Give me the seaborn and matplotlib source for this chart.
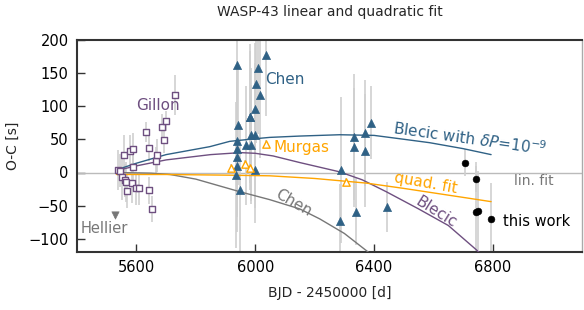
import matplotlib
matplotlib.use("Agg")
import matplotlib.pyplot as plt
import seaborn as sns
import numpy as np
import pandas as pd

# ---------------- data ----------------
gillon_x = [5539, 5545, 5550, 5559, 5561, 5565, 5569, 5578, 5584, 5587, 5589, 5600, 5609,
            5632, 5643, 5643, 5651, 5665, 5670, 5685, 5692, 5701, 5729]
gillon_y = [4, 3, -7, 26, -12, -14, -28, 32, -16, 35, 8, -24, -24,
            61, 37, -27, -55, 18, 26, 69, 49, 78, 117]
gillon_e = [30, 25, 35, 30, 25, 30, 25, 25, 30, 25, 30, 25, 25,
            15, 20, 20, 20, 20, 25, 20, 20, 15, 30]

hellier_x = [5528]
hellier_y = [-64]
hellier_e = [4]

chen_x = [5935, 5937, 5937, 5937, 5937, 5942, 5940, 5948,
          5970, 5981, 5981, 5987, 5987,
          5998, 5998, 5998, 6004, 6009, 6017, 6037,
          6286, 6290, 6331, 6331, 6338, 6371, 6371, 6390, 6443]
chen_y = [-4, 10, 23, 36, 47, 71, 162, -27,
          41, 84, 84, 42, 57,
          4, 56, 96, 134, 158, 117, 177,
          -73, 4, 53, 38, -59, 60, 33, 75, -52]
chen_e = [110, 100, 90, 100, 110, 90, 120, 100,
          90, 110, 100, 90, 100,
          80, 110, 100, 90, 100, 95, 92,
          55, 110, 95, 90, 50, 80, 85, 55, 38]

murgas_x = [5920, 5967, 5981, 6037, 6304]
murgas_y = [7, 13, 7, 43, -15]
murgas_e = [6, 6, 6, 6, 6]

thiswork_x = [6706, 6742, 6743, 6750, 6794]
thiswork_y = [15, -9.5, -59, -57.5, -70.6]
thiswork_e = [20, 20, 75, 60, 55]

# model curves
blecic_dp_x = [5533, 5600, 5700, 5847, 5914, 6000, 6049, 6150, 6284, 6400, 6486, 6587, 6700, 6794]
blecic_dp_y = [4, 14, 27, 39, 47, 51, 53, 55, 57, 56, 51, 45, 36, 27]

blecic_x = [5533, 5600, 5700, 5850, 5950, 6000, 6060, 6150, 6284, 6360, 6441, 6550, 6650, 6740, 6790]
blecic_y = [3, 10, 19, 27, 30, 29, 25, 15, 1, -11, -29, -55, -80, -115, -135]

chenfit_x = [5533, 5650, 5713, 5800, 5948, 6049, 6150, 6217, 6300, 6380, 6420]
chenfit_y = [0, -1, -3, -10, -29, -41, -55, -70, -92, -120, -135]

quad_x = [5533, 5700, 5900, 6049, 6200, 6374, 6500, 6721, 6794]
quad_y = [-3, -3, -4, -5, -9, -16, -24, -39, -44]

xticks = [5600, 6000, 6400, 6800]
yticks = [-100, -50, 0, 50, 100, 150, 200]

# ---------------- style ----------------
sns.set_theme(style="ticks")
plt.rcParams['font.family'] = ['DejaVu Sans']

BLUE = "#2f6185"
PURPLE = "#6e4f80"
ORANGE = "#ffa500"
GRAY = "#777777"
EGRAY = "#cfcfcf"

fig = plt.figure(figsize=(5.84, 3.10), dpi=100)
ax = fig.add_axes([77 / 584, 58 / 310, 505 / 584, 212 / 310])

# zero line (lin. fit)
ax.axhline(0, color="#bbbbbb", lw=1.0, zorder=1)

# error bars
for xs, ys, es in [(gillon_x, gillon_y, gillon_e), (chen_x, chen_y, chen_e),
                   (murgas_x, murgas_y, murgas_e), (thiswork_x, thiswork_y, thiswork_e),
                   (hellier_x, hellier_y, hellier_e)]:
    ax.errorbar(xs, ys, yerr=es, fmt="none", ecolor=EGRAY, elinewidth=1.2, zorder=2)

# model lines
for xs, ys, c in [(blecic_dp_x, blecic_dp_y, BLUE), (blecic_x, blecic_y, PURPLE),
                  (chenfit_x, chenfit_y, GRAY), (quad_x, quad_y, ORANGE)]:
    sns.lineplot(x=xs, y=ys, color=c, lw=1.0, sort=False, estimator=None, ax=ax, zorder=3)

# markers
sns.scatterplot(x=gillon_x, y=gillon_y, marker="s", s=22, facecolor="white",
                edgecolor=PURPLE, linewidth=1.0, ax=ax, zorder=4)
sns.scatterplot(x=chen_x, y=chen_y, marker="^", s=34, color=BLUE, edgecolor=BLUE,
                linewidth=0.5, ax=ax, zorder=4)
sns.scatterplot(x=murgas_x, y=murgas_y, marker="^", s=28, facecolor="white",
                edgecolor=ORANGE, linewidth=1.0, ax=ax, zorder=4)
sns.scatterplot(x=thiswork_x, y=thiswork_y, marker="o", s=24, color="black",
                edgecolor="black", ax=ax, zorder=5)
sns.scatterplot(x=hellier_x, y=hellier_y, marker="v", s=28, color=GRAY,
                edgecolor=GRAY, ax=ax, zorder=4)

# text labels
ax.text(5600, 101, "Gillon", color=PURPLE, fontsize=11, ha="left", va="center")
ax.text(6032, 140, "Chen", color=BLUE, fontsize=11, ha="left", va="center")
ax.text(6060, 37, "Murgas", color=ORANGE, fontsize=11, ha="left", va="center")
ax.text(6130, -46, "Chen", color=GRAY, fontsize=11, ha="center", va="center", rotation=-30)
ax.text(6609, -60, "Blecic", color=PURPLE, fontsize=11, ha="center", va="center", rotation=-32)
ax.text(6575, -16, "quad. fit", color=ORANGE, fontsize=11, ha="center", va="center", rotation=-10)
ax.text(6721, 52, r"Blecic with $\delta P$=10$^{-9}$", color=BLUE, fontsize=11,
        ha="center", va="center", rotation=-8)
ax.text(6870, -13, "lin. fit", color=GRAY, fontsize=10, ha="left", va="center")
ax.text(6835, -74, "this work", color="black", fontsize=10.5, ha="left", va="center")
ax.text(5412, -85, "Hellier", color=GRAY, fontsize=10.5, ha="left", va="center")

# axes
ax.set_xlim(5400, 7100)
ax.set_ylim(-120, 200)
ax.set_xticks(xticks)
ax.set_yticks(yticks)
ax.tick_params(direction="in", length=6, width=1.0, labelsize=10.5, colors="#333333",
               labelcolor="black", pad=6)
ax.set_xlabel("BJD - 2450000 [d]", fontsize=10, labelpad=8)
ax.set_ylabel("O-C [s]", fontsize=10, labelpad=6)
for side in ["left", "bottom", "top"]:
    ax.spines[side].set_color("#333333")
    ax.spines[side].set_linewidth(1.5)
ax.spines["right"].set_color("#aaaaaa")
ax.spines["right"].set_linewidth(1.0)
ax.spines["top"].set_visible(True)
ax.spines["right"].set_visible(True)

fig.text(330 / 584, 1 - 12 / 310, "WASP-43 linear and quadratic fit", ha="center",
         va="center", fontsize=10)

fig.savefig("out.png", dpi=100)
